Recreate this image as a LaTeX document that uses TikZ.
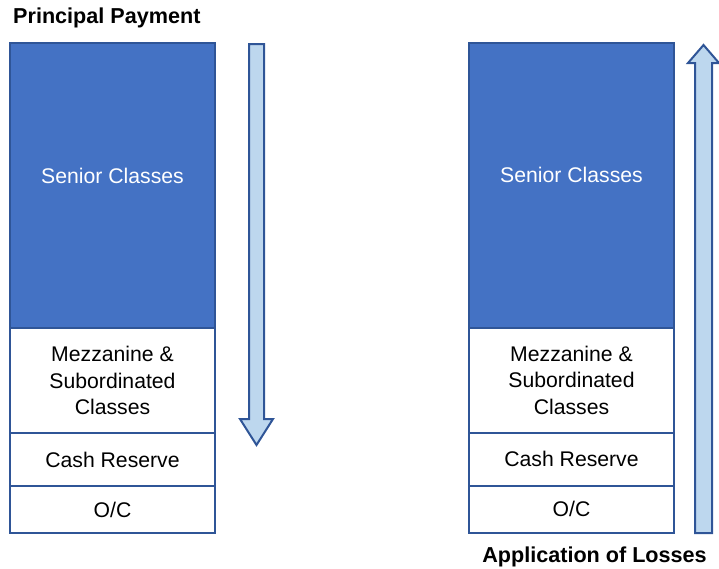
\documentclass[tikz,border=0pt]{standalone}
\usepackage{fontspec}
\setmainfont{Liberation Sans}
\usetikzlibrary{positioning}
\definecolor{seniorblue}{HTML}{4472C4}
\definecolor{edgeblue}{HTML}{2F5597}
\definecolor{arrowblue}{HTML}{BDD7EE}

\begin{document}
\begin{tikzpicture}[x=1pt,y=-1pt,
  tier/.style = {draw=edgeblue, line width=2pt, fill=white, outer sep=0pt, inner sep=0pt,
                 minimum width=205pt, align=center, font=\fontsize{21.2}{26.5}\selectfont},
  senior/.style = {tier, fill=seniorblue, text=white, minimum height=285pt, text depth=20pt},
  flow/.style = {draw=edgeblue, line width=2pt, fill=arrowblue, line join=miter},
  caption/.style = {font=\fontsize{21.6}{24}\selectfont\bfseries, inner sep=0pt}]

\useasboundingbox (0,0) rectangle (719,568);

% principal payment side
\node[senior] (senL) at (112.5,185.5) {Senior Classes};
\node[tier, minimum height=105pt] (mezL) [below=0pt of senL] {Mezzanine \&\\Subordinated\\Classes};
\node[tier, minimum height=53pt] (cashL) [below=0pt of mezL] {Cash Reserve};
\node[tier, minimum height=47pt] (ocL) [below=0pt of cashL] {O/C};
\node[caption, anchor=west] (payT) at (13,18) {Principal Payment};

% application of losses side
\node[senior] (senR) at (571.5,185) {Senior Classes};
\node[tier, minimum height=105pt] (mezR) [below=0pt of senR] {Mezzanine \&\\Subordinated\\Classes};
\node[tier, minimum height=53pt] (cashR) [below=0pt of mezR] {Cash Reserve};
\node[tier, minimum height=47pt] (ocR) [below=0pt of cashR] {O/C};
\node[caption] (lossT) at (594.5,557) {Application of Losses};

% block arrows
\draw[flow] (249,44) -- (264,44) -- (264,419) -- (273,419) -- (256.5,445)
  -- (240,419) -- (249,419) -- cycle;
\draw[flow] (695,533) -- (712,533) -- (712,63) -- (719,63) -- (703.5,45)
  -- (688,63) -- (695,63) -- cycle;

\end{tikzpicture}
\end{document}
